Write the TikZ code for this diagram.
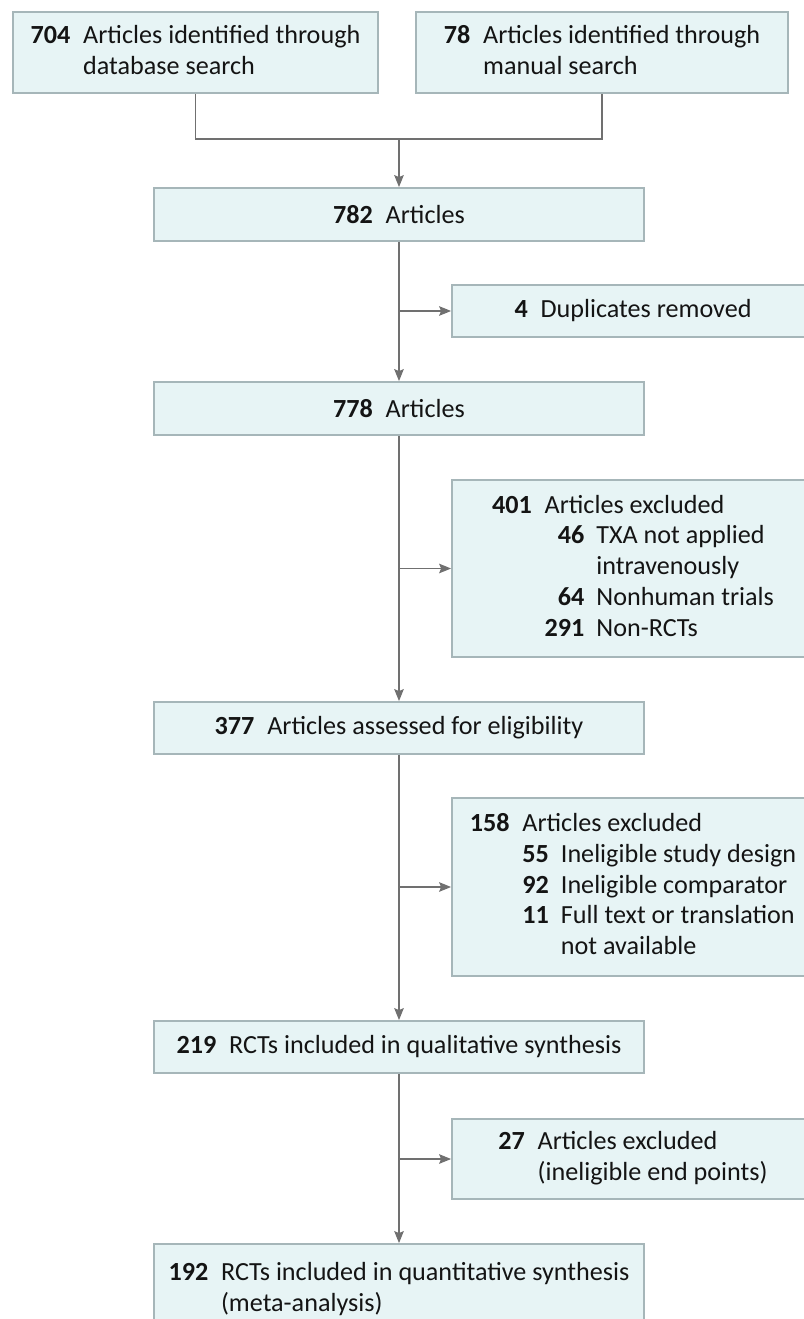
\documentclass[tikz,border=0pt]{standalone}
\usepackage{fontspec}
\setmainfont{Carlito}
\usetikzlibrary{positioning, calc, arrows.meta}

\definecolor{boxfill}{RGB}{231,244,245}
\definecolor{boxline}{RGB}{166,182,185}
\definecolor{wire}{RGB}{112,112,112}
\definecolor{ink}{RGB}{20,20,20}

\newcommand{\cnt}[1]{\textbf{#1}}
\newcommand{\gapw}{0.32cm}

\begin{document}
\begin{tikzpicture}[
    block/.style={draw=boxline, line width=1.3pt, fill=boxfill, rectangle,
                  inner sep=0pt, text=ink,
                  font=\fontsize{18.6}{21.9}\selectfont},
    mainbox/.style={block, minimum width=12.25cm, minimum height=1.3cm},
    sidebox/.style={block, minimum width=9.05cm},
    >={Stealth[length=3mm, width=2.4mm, inset=0.5mm]},
    line width=0.9pt, draw=wire,
]
\useasboundingbox (0,0) rectangle (20.1,-32.975);

% =================================================================
%  IDENTIFICATION
% =================================================================
\node[block, minimum width=9.125cm, minimum height=2.025cm] (db) at (4.8875, -1.3125)
    {\begin{tabular}{@{}r@{\hspace{\gapw}}l@{}}
     \cnt{704} & Articles identified through\\
               & database search
     \end{tabular}};
\node[block, minimum width=9.3cm, minimum height=2.025cm] (man) at (15.05, -1.3125)
    {\begin{tabular}{@{}r@{\hspace{\gapw}}l@{}}
     \cnt{78} & Articles identified through\\
              & manual search
     \end{tabular}};

\coordinate (merge) at (9.975, -3.475);

\node[mainbox, minimum height=1.325cm] (all) at (9.975, -5.3625)
    {\cnt{782}\hspace{\gapw}Articles};

\draw (db.south) |- (merge) -| (man.south);
\draw[->, draw=wire] (merge) -- (all.north);

% =================================================================
%  SCREENING
% =================================================================
\node[sidebox, minimum height=1.3cm] (dup) at (15.825, -7.775)
    {\cnt{4}\hspace{\gapw}Duplicates removed};
\node[mainbox, minimum height=1.325cm] (uniq) at (9.975, -10.2125)
    {\cnt{778}\hspace{\gapw}Articles};

\draw[->, draw=wire] (all.south) -- (uniq.north);
\draw[->, draw=wire] (all.south |- dup.west) -- (dup.west);

\node[sidebox, minimum height=4.425cm] (excl1) at (15.825, -14.2125)
    {\begin{tabular}{@{}r@{\hspace{\gapw}}r@{\hspace{0.3cm}}l@{}}
     \cnt{401} & \multicolumn{2}{@{}l@{}}{Articles excluded}\\
               & \cnt{46}  & TXA not applied\\
               &           & intravenously\\
               & \cnt{64}  & Nonhuman trials\\
               & \cnt{291} & Non-RCTs
     \end{tabular}};
\node[mainbox] (elig) at (9.975, -18.2)
    {\cnt{377}\hspace{\gapw}Articles assessed for eligibility};

\draw[->, draw=wire] (uniq.south) -- (elig.north);
\draw[->, draw=wire] (uniq.south |- excl1.west) -- (excl1.west);

% =================================================================
%  ELIGIBILITY
% =================================================================
\node[sidebox, minimum height=4.45cm] (excl2) at (15.825, -22.175)
    {\begin{tabular}{@{}r@{\hspace{\gapw}}r@{\hspace{0.3cm}}l@{}}
     \cnt{158} & \multicolumn{2}{@{}l@{}}{Articles excluded}\\
               & \cnt{55} & Ineligible study design\\
               & \cnt{92} & Ineligible comparator\\
               & \cnt{11} & Full text or translation\\
               &          & not available
     \end{tabular}};
\node[mainbox] (qual) at (9.975, -26.175)
    {\cnt{219}\hspace{\gapw}RCTs included in qualitative synthesis};

\draw[->, draw=wire] (elig.south) -- (qual.north);
\draw[->, draw=wire] (elig.south |- excl2.west) -- (excl2.west);

% =================================================================
%  INCLUDED
% =================================================================
\node[sidebox, minimum height=2cm] (excl3) at (15.825, -28.975)
    {\begin{tabular}{@{}r@{\hspace{\gapw}}l@{}}
     \cnt{27} & Articles excluded\\
              & (ineligible end points)
     \end{tabular}};
\node[mainbox, minimum height=2.3cm] (quant) at (9.975, -32.25)
    {\begin{tabular}{@{}r@{\hspace{\gapw}}l@{}}
     \cnt{192} & RCTs included in quantitative synthesis\\
               & (meta-analysis)
     \end{tabular}};

\draw[->, draw=wire] (qual.south) -- (quant.north);
\draw[->, draw=wire] (qual.south |- excl3.west) -- (excl3.west);

\end{tikzpicture}
\end{document}
